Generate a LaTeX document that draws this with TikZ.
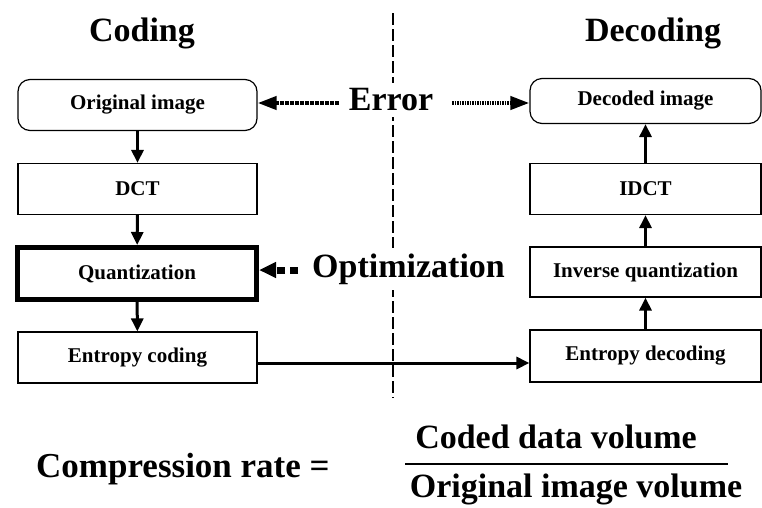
\documentclass[tikz,border=0pt]{standalone}
\usepackage{fontspec}
\setmainfont{Liberation Serif}
\usetikzlibrary{arrows.meta}
\tikzset{
  stage/.style={draw, line width=1.2pt, minimum width=239pt, minimum height=51pt,
    inner sep=0pt, font=\fontsize{21}{23}\selectfont\bfseries},
  endstage/.style={stage, rounded corners=12pt},
  keystage/.style={stage, line width=5pt},
  big/.style={font=\fontsize{34}{38}\selectfont\bfseries, inner sep=0pt},
  flow/.style={line width=3pt, -{Triangle[length=13pt,width=12pt]}},
  errflow/.style={line width=4pt, dash pattern=on 1.6pt off 0.9pt,
    -{Triangle[length=19pt,width=13pt]}},
  optflow/.style={line width=7pt, dash pattern=on 8pt off 5pt,
    -{Triangle[length=17pt,width=15pt]}},
  divider/.style={line width=2pt, dash pattern=on 12pt off 4pt}
}
\begin{document}
\begin{tikzpicture}[x=1pt,y=-1pt]
\useasboundingbox (0,0) rectangle (762,507);

% boundary between encoder and decoder
\draw[divider] (393,13) -- (393,398);

% column titles
\node[big] (tcod) at (142,33) {Coding};
\node[big] (tdec) at (653,33) {Decoding};

% encoder chain
\node[endstage] (orig) at (137.5,105) {Original image};
\node[stage] (dct) at (137.5,189) {DCT};
\node[keystage, minimum width=239pt, minimum height=52pt] (quant) at (137,273.5) {Quantization};
\node[stage] (enc) at (137.5,357.5) {Entropy coding};

% decoder chain
\node[endstage, minimum width=231pt, minimum height=45pt] (decd) at (645.5,101) {Decoded image};
\node[stage, minimum width=231pt] (idct) at (645.5,189) {IDCT};
\node[stage, minimum width=231pt, minimum height=50pt] (iq) at (645.5,272) {Inverse quantization};
\node[stage, minimum width=231pt, minimum height=52pt] (dec) at (645.5,356) {Entropy decoding};

\draw[flow] (orig) -- (dct);
\draw[flow] (dct) -- (quant);
\draw[flow] (quant) -- (enc);
\draw[flow] (dec) -- (iq);
\draw[flow] (iq) -- (idct);
\draw[flow] (idct) -- (decd);
\draw[flow] (enc.east |- 0,363) -- (dec.west |- 0,363);

% error between original and decoded image
\node[big, fill=white, inner sep=6pt] (err) at (391,100) {Error};
\coordinate (errl) at (339,103);
\coordinate (errr) at (452,103);
\draw[errflow] (errl) -- (orig.east |- errl);
\draw[errflow] (errr) -- (decd.west |- errr);

% optimization of the quantizer
\node[big, fill=white, inner sep=6pt, anchor=west] (opt) at (306,269) {Optimization};
\coordinate (optsrc) at (298,270);
\draw[optflow] (optsrc) -- (quant.east |- optsrc);

% compression rate formula
\node[big, font=\fontsize{35}{38}\selectfont\bfseries, anchor=base west] (cr) at (36,477) {Compression rate =};
\node[big, anchor=base] (num) at (556,448) {Coded data volume};
\node[big, anchor=base] (den) at (576,497) {Original image volume};
\coordinate (fl) at (405,464);
\coordinate (fr) at (728,464);
\draw[line width=2.5pt] (fl) -- (fr);
\end{tikzpicture}
\end{document}
